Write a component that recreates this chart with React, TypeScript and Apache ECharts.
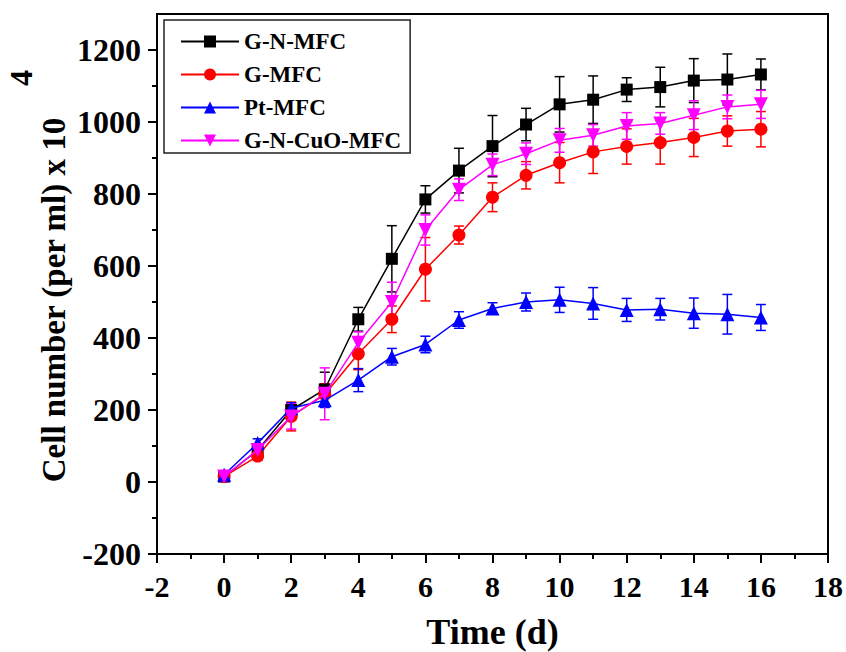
import React, { useEffect, useRef } from "react";
import * as echarts from "echarts";

const days = [0, 1, 2, 3, 4, 5, 6, 7, 8, 9, 10, 11, 12, 13, 14, 15, 16];

const gnMean = [15, 88, 200, 257, 452, 620, 785, 865, 933, 993, 1049, 1062, 1090, 1097, 1115, 1118, 1132];
const gnErr = [8, 15, 20, 48, 33, 92, 38, 62, 85, 45, 77, 66, 33, 55, 61, 71, 43];

const gMean = [15, 72, 182, 243, 356, 452, 591, 686, 791, 852, 887, 917, 932, 943, 957, 975, 980];
const gErr = [8, 12, 40, 30, 44, 37, 88, 25, 40, 38, 56, 60, 49, 60, 53, 42, 49];

const ptMean = [20, 108, 205, 227, 283, 348, 382, 450, 482, 500, 506, 496, 478, 480, 469, 466, 457];
const ptErr = [8, 12, 15, 20, 32, 23, 23, 23, 16, 25, 35, 44, 32, 30, 42, 55, 36];

const cuoMean = [15, 89, 182, 245, 387, 500, 700, 812, 881, 912, 949, 963, 989, 996, 1019, 1042, 1049];
const cuoErr = [8, 12, 35, 72, 30, 55, 42, 30, 30, 30, 33, 30, 37, 30, 40, 33, 39];

const seriesNames = ["G-N-MFC", "G-MFC", "Pt-MFC", "G-N-CuO-MFC"];
const seriesColors = ["#000000", "#ff0000", "#0000ff", "#ff00ff"];

const yTickValues = [-200, 0, 200, 400, 600, 800, 1000, 1200];
const yMinorTickValues = [-100, 100, 300, 500, 700, 900, 1100];

const FONT = "'Liberation Serif', 'Times New Roman', serif";

export default function App() {
  const ref = useRef<HTMLDivElement>(null);

  useEffect(() => {
    if (!ref.current) return;
    const chart = echarts.init(ref.current, null, { renderer: "svg" });

    const means = [gnMean, gMean, ptMean, cuoMean];
    const errs = [gnErr, gErr, ptErr, cuoErr];
    const symbols = [
      "rect",
      "circle",
      "triangle",
      "path://M0,0 L10,0 L5,9 Z",
    ];
    const symbolSizes = [12, 13, 14, 14];

    const series: any[] = [];
    means.forEach((m, si) => {
      const color = seriesColors[si];
      series.push({
        type: "custom",
        name: seriesNames[si] + " error",
        z: 2,
        data: days.map((d, i) => [d, m[i] - errs[si][i], m[i] + errs[si][i]]),
        encode: { x: 0, y: [1, 2] },
        renderItem: (params: any, api: any) => {
          const x = api.value(0);
          const lo = api.coord([x, api.value(1)]);
          const hi = api.coord([x, api.value(2)]);
          const hw = 5;
          const style = { stroke: color, lineWidth: 1.5, fill: null };
          return {
            type: "group",
            children: [
              { type: "line", shape: { x1: lo[0], y1: lo[1], x2: hi[0], y2: hi[1] }, style },
              { type: "line", shape: { x1: lo[0] - hw, y1: lo[1], x2: lo[0] + hw, y2: lo[1] }, style },
              { type: "line", shape: { x1: hi[0] - hw, y1: hi[1], x2: hi[0] + hw, y2: hi[1] }, style },
            ],
          };
        },
      });
      series.push({
        type: "line",
        name: seriesNames[si],
        z: 3 + si,
        data: days.map((d, i) => [d, m[i]]),
        symbol: symbols[si],
        symbolSize: symbolSizes[si],
        showSymbol: true,
        lineStyle: { color, width: 1.5 },
        itemStyle: { color, borderWidth: 0 },
      });
    });

    const option: any = {
      animation: false,
      backgroundColor: "#ffffff",
      textStyle: { fontFamily: FONT, fontWeight: "bold", color: "#000" },
      grid: {
        left: 157,
        right: 18,
        top: 14,
        bottom: 98,
        show: true,
        borderColor: "#000",
        borderWidth: 2,
        backgroundColor: "transparent",
        containLabel: false,
        outerBoundsMode: "none",
      },
      legend: {
        data: seriesNames,
        orient: "vertical",
        left: 164,
        top: 20,
        padding: [10, 9, 1, 16],
        itemWidth: 58,
        itemHeight: 15,
        itemGap: 10,
        borderColor: "#222",
        borderWidth: 1.5,
        backgroundColor: "#fff",
        textStyle: {
          fontFamily: FONT,
          fontWeight: "bold",
          fontSize: 23,
          lineHeight: 23,
          color: "#000",
        },
      },
      xAxis: {
        type: "value",
        min: -2,
        max: 18,
        interval: 2,
        name: "Time (d)",
        nameLocation: "middle",
        nameGap: 60,
        nameTextStyle: { fontFamily: FONT, fontWeight: "bold", fontSize: 36, color: "#000" },
        axisLine: { show: true, onZero: false, lineStyle: { color: "#000", width: 2 } },
        axisTick: { show: true, inside: false, length: 9, lineStyle: { color: "#000", width: 2 } },
        minorTick: { show: true, splitNumber: 2, length: 5, lineStyle: { color: "#000", width: 2 } },
        axisLabel: {
          margin: 17,
          fontFamily: FONT,
          fontWeight: "bold",
          fontSize: 30,
          color: "#000",
          formatter: (v: number) => String(v),
        },
        splitLine: { show: false },
        minorSplitLine: { show: false },
      },
      yAxis: [
        {
          type: "value",
          min: -200,
          max: 1300,
          axisLine: { show: true, onZero: false, lineStyle: { color: "#000", width: 2 } },
          axisTick: {
            show: true,
            inside: false,
            length: 9,
            customValues: yTickValues,
            lineStyle: { color: "#000", width: 2 },
          },
          axisLabel: {
            margin: 16,
            customValues: yTickValues,
            fontFamily: FONT,
            fontWeight: "bold",
            fontSize: 32,
            color: "#000",
            formatter: (v: number) => String(v),
          },
          splitLine: { show: false },
        },
        {
          type: "value",
          min: -200,
          max: 1300,
          position: "left",
          axisLine: { show: false, onZero: false },
          axisTick: {
            show: true,
            inside: false,
            length: 5,
            customValues: yMinorTickValues,
            lineStyle: { color: "#000", width: 2 },
          },
          axisLabel: { show: false },
          splitLine: { show: false },
        },
      ],
      graphic: [
        {
          type: "text",
          x: 54,
          y: 300,
          rotation: Math.PI / 2,
          style: {
            text: "Cell number (per ml) x 10",
            fontFamily: FONT,
            fontWeight: "bold",
            fontSize: 33,
            fill: "#000",
            textAlign: "center",
            textVerticalAlign: "middle",
          },
        },
        {
          type: "text",
          x: 21,
          y: 78,
          rotation: Math.PI / 2,
          style: {
            text: "4",
            fontFamily: FONT,
            fontWeight: "bold",
            fontSize: 32,
            fill: "#000",
            textAlign: "center",
            textVerticalAlign: "middle",
          },
        },
      ],
      series,
    };

    chart.setOption(option);
    return () => chart.dispose();
  }, []);

  return (
    <div
      ref={ref}
      style={{ position: "fixed", left: 0, top: 0, width: 846, height: 652, background: "#fff" }}
    />
  );
}
